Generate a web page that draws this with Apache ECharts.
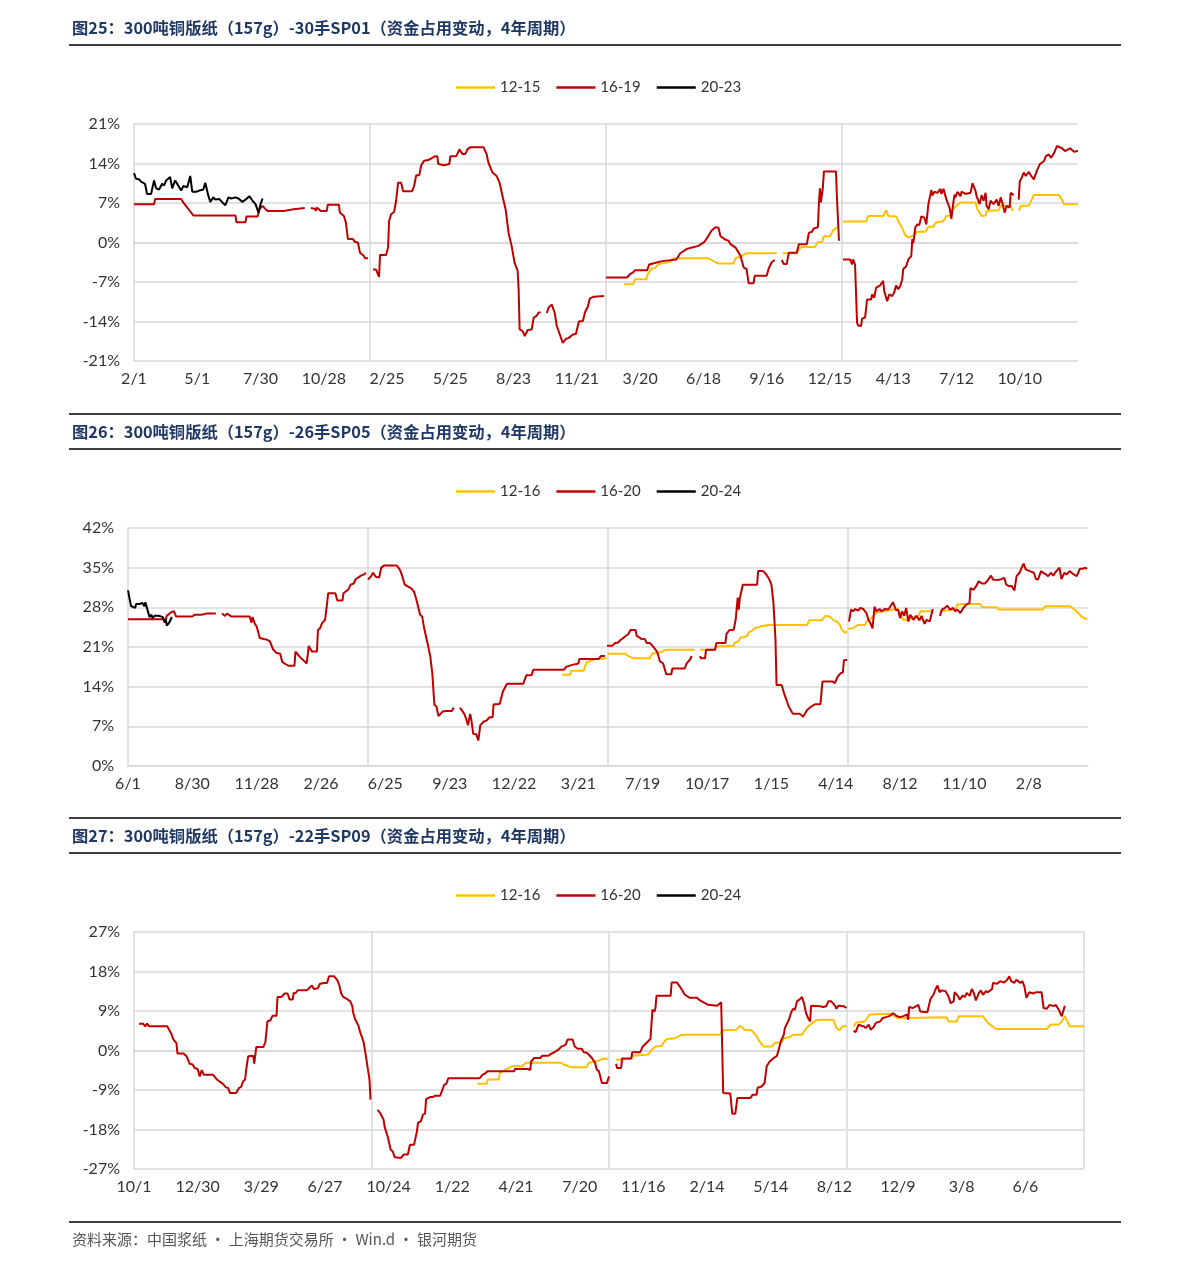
<!DOCTYPE html>
<html><head><meta charset="utf-8">
<script src="https://cdn.jsdelivr.net/npm/echarts@6/dist/echarts.min.js"></script>
<style>html,body{margin:0;padding:0;background:#fff}#c{width:1191px;height:1267px}</style>
</head><body><div id="c"></div>
<script>
// ---------- tick labels (one every 63 trading days, 235 per year) ----------
const xLabels1 = ['2/1','5/1','7/30','10/28','2/25','5/25','8/23','11/21','3/20','6/18','9/16','12/15','4/13','7/12','10/10'];
const xLabels2 = ['6/1','8/30','11/28','2/26','6/25','9/23','12/22','3/21','7/19','10/17','1/15','4/14','8/12','11/10','2/8'];
const xLabels3 = ['10/1','12/30','3/29','6/27','10/24','1/22','4/21','7/20','11/16','2/14','5/14','8/12','12/9','3/8','6/6'];
const names1 = ['12-15','16-19','20-23'];
const names2 = ['12-16','16-20','20-24'];
const names3 = ['12-16','16-20','20-24'];
const titles = [
  '图25：300吨铜版纸（157g）-30手SP01（资金占用变动，4年周期）',
  '图26：300吨铜版纸（157g）-26手SP05（资金占用变动，4年周期）',
  '图27：300吨铜版纸（157g）-22手SP09（资金占用变动，4年周期）'
];
const footer = '资料来源：中国浆纸 · 上海期货交易所 · Win.d · 银河期货';

// ---------- chart 1 (values in %, [trading day, value]); segments are separated by gaps ----------
const yellow1 = [
 [[488,-7.4],[497,-7.4],[499,-6.5],[510,-6.5],[512,-5.5],[515,-4.7],[519,-4.5],[522,-3.9],[526,-3.7],[534,-3.4],[537,-2.8],[572,-2.8],[579,-3.5],[582,-3.7],[597,-3.7],[599,-2.8],[605,-2.4],[610,-1.9],[640,-1.9]],
 [[646,-1.9],[660,-1.9],[662,-1.2],[665,-0.8],[678,-0.8],[681,0.1],[685,0.1],[687,1.1],[693,1.1],[696,2.1],[701,2.8]],
 [[706,3.7],[729,3.7],[731,4.7],[746,4.7],[749,5.7],[751,4.7],[759,4.6],[762,3.5],[765,2.5],[768,1.3],[771,0.9],[776,1.2],[780,1.9],[788,1.9],[791,2.8],[796,2.8],[798,3.5],[806,3.8],[809,4.7],[813,4.8],[814,5.6],[819,6.5],[823,7.1],[838,7.1],[840,5.9],[844,4.7],[848,4.8],[849,5.6],[861,5.7],[863,6.5],[873,6.5],[875,5.6]],
 [[881,5.6],[883,6.5],[891,6.5],[896,8.4],[921,8.4],[924,7.6],[926,6.8],[940,6.8]]
];
const red1 = [
 [[0,6.8],[20,6.8],[21,7.7],[47,7.7],[49,7.1],[53,6.2],[59,4.8],[101,4.8],[102,3.6],[111,3.6],[112,4.6],[123,4.6],[125,5.9],[128,6.5],[131,5.9],[133,5.6],[149,5.6],[150,5.9],[159,5.9],[160,6.1],[170,6.1]],
 [[176,6.1],[180,6.0],[181,5.6],[182,6.2],[186,5.6],[192,5.6],[193,6.7],[204,6.7],[205,5.3],[209,4.7],[211,3.5],[212,3.2],[213,0.6],[218,0.6],[220,0.1],[223,0.0],[225,-1.8],[229,-2.4],[230,-2.8],[233,-2.8]],
 [[238,-4.8],[241,-4.8],[244,-6.1],[245,-2.2],[251,-2.2],[253,-0.9],[254,3.8],[256,5.0],[259,5.4],[261,7.4],[263,10.6],[266,10.6],[268,9.1],[277,9.1],[279,10.1],[281,11.9],[284,11.9],[286,13.7],[289,14.5],[293,14.6],[297,15.0],[300,15.3],[302,15.3],[303,13.9],[309,13.7],[314,13.9],[315,15.3],[321,15.3],[324,16.5],[327,15.7],[330,15.7],[332,16.5],[335,16.9],[348,16.9],[351,15.7],[353,14.1],[357,12.4],[361,11.8],[364,10.6],[367,8.2],[370,5.9],[373,1.7],[376,-0.6],[379,-3.6],[382,-5.0],[383,-8.3],[384,-15.4],[387,-15.7],[389,-16.6],[392,-15.5],[396,-15.4],[398,-13.3],[401,-13.0],[403,-12.4],[405,-12.4]],
 [[411,-12.5],[413,-11.5],[416,-11.0],[419,-12.5],[421,-14.8],[424,-16.3],[427,-17.8],[430,-17.1],[433,-16.9],[437,-16.3],[440,-16.2],[443,-14.0],[447,-13.9],[449,-12.4],[452,-11.3],[454,-9.9],[458,-9.6],[468,-9.5]],
 [[470,-6.2],[491,-6.2],[494,-5.6],[497,-5.3],[499,-4.9],[511,-4.9],[513,-3.9],[526,-3.3],[540,-3.0],[544,-1.9],[551,-1.1],[562,-0.6],[568,0.1],[572,1.2],[575,2.1],[579,2.7],[582,2.6],[584,1.1],[589,0.5],[592,0.3],[594,-0.3],[599,-0.9],[604,-2.4],[607,-4.4],[610,-4.7],[612,-7.2],[617,-7.2],[618,-5.9],[630,-5.9],[632,-4.6],[635,-3.5],[638,-3.1]],
 [[645,-3.1],[647,-3.8],[650,-3.8],[652,-1.8],[660,-1.8],[662,-0.3],[670,-0.3],[672,1.7],[675,1.9],[677,2.5],[681,2.7],[682,7.0],[683,9.6],[684,7.1],[686,9.8],[687,12.6],[699,12.6],[700,7.8],[702,0.3]],
 [[706,-3.0],[713,-3.0],[715,-3.9],[716,-3.0],[718,-3.9],[720,-14.2],[721,-14.7],[724,-14.8],[725,-13.5],[728,-13.3],[730,-10.1],[731,-9.8],[734,-10.1],[735,-9.2],[737,-9.8],[739,-8.0],[743,-7.6],[746,-6.8],[747,-8.6],[750,-10.4],[752,-9.2],[755,-9.5],[757,-8.8],[759,-7.6],[761,-8.3],[763,-7.7],[765,-6.5],[766,-4.7],[769,-4.2],[771,-3.0],[774,-2.4],[775,0.6],[776,-0.1],[778,2.7],[780,3.2],[782,3.1],[784,4.6],[787,4.4],[789,3.2],[791,6.8],[794,9.3],[795,8.3],[797,9.0],[800,8.8],[803,9.5],[804,8.6],[806,9.5],[809,7.6],[812,6.2],[814,4.2],[815,5.9],[817,8.5],[818,8.0],[820,9.0],[823,8.2],[824,9.0],[828,8.6],[833,8.8],[835,10.5],[838,9.1],[839,8.2],[842,6.8],[844,8.4],[846,7.4],[848,8.8],[849,6.5],[851,5.9],[853,7.4],[856,6.8],[859,7.6],[861,6.5],[863,8.0],[865,6.8],[867,5.3],[869,6.5],[872,6.2],[873,8.8],[876,8.4]],
 [[881,7.6],[882,10.8],[884,11.5],[886,12.4],[888,11.8],[891,12.5],[893,11.9],[896,11.2],[899,12.7],[902,13.9],[906,14.4],[908,15.3],[911,15.6],[913,15.0],[916,15.8],[919,17.1],[924,16.7],[927,16.2],[932,16.7],[936,16.1],[940,16.2]]
];
const black1 = [
 [[0,12.3],[2,11.3],[5,11.2],[7,10.8],[11,10.4],[13,8.6],[17,8.6],[20,11.0],[22,9.6],[25,9.4],[28,10.4],[30,10.1],[32,11.0],[36,11.6],[38,9.6],[41,11.0],[44,10.1],[47,9.2],[49,10.0],[53,9.8],[56,11.8],[58,9.0],[62,9.0],[65,9.2],[69,9.4],[71,10.6],[74,8.3],[76,7.2],[79,8.0],[81,7.6],[85,7.7],[88,7.1],[91,6.6],[94,8.0],[97,7.8],[101,8.0],[104,7.8],[108,7.2],[111,7.6],[115,8.2],[118,7.4],[121,6.8],[124,5.3],[126,6.8],[128,7.8]]
];

// ---------- chart 2 ----------
const yellow2 = [
 [[425,16.1],[433,16.1],[434,16.8],[446,16.8],[449,18.3],[451,18.4],[458,18.9],[469,19.0]],
 [[470,19.8],[487,19.8],[490,19.4],[495,19.0],[511,19.0],[513,19.8],[519,20.0],[523,20.2],[526,20.5],[555,20.5]],
 [[560,20.5],[573,20.5],[576,21.1],[593,21.2],[594,21.7],[598,22.0],[599,22.6],[606,22.9],[608,23.6],[612,24.0],[614,24.3],[619,24.6],[624,24.8],[627,24.9],[665,24.9],[667,25.7],[679,25.7],[683,26.5],[687,26.4],[691,25.7],[694,25.5],[697,24.9],[699,24.0],[702,23.5],[704,23.7]],
 [[705,24.2],[710,24.3],[712,24.6],[715,24.9],[722,24.9],[723,25.5],[727,26.0],[730,26.5],[733,27.1],[740,27.3],[749,27.6],[754,27.7],[757,26.5],[759,25.8],[764,25.8],[769,26.3],[774,26.5],[776,27.3],[789,27.3]],
 [[795,27.3],[810,27.6],[812,28.5],[818,28.6],[834,28.6],[837,28.0],[851,28.0],[852,27.6],[896,27.6],[898,28.2],[922,28.2],[926,27.7],[931,26.9],[934,26.3],[939,25.9]]
];
const red2 = [
 [[0,25.9],[37,25.9],[38,26.5],[42,27.1],[45,27.3],[47,26.4],[63,26.4],[65,26.7],[72,26.7],[77,26.9],[86,26.9]],
 [[92,26.9],[95,26.5],[97,26.9],[101,26.4],[119,26.4],[121,25.3],[122,26.3],[124,25.2],[126,24.6],[129,22.6],[133,22.4],[136,22.3],[139,22.0],[142,20.6],[145,20.0],[149,19.8],[151,18.4],[154,18.0],[157,17.7],[163,17.7],[164,20.2],[168,19.3],[175,18.1],[177,21.2],[180,20.2],[185,20.2],[186,24.0],[188,24.3],[190,25.2],[193,25.8],[195,28.8],[196,30.5],[203,30.5],[205,29.2],[210,29.2],[211,30.5],[216,31.2],[218,32.0],[221,32.2],[223,33.0],[225,33.2],[228,33.6],[231,33.8],[233,34.1]],
 [[235,32.9],[238,33.5],[240,34.1],[243,33.3],[246,33.3],[248,35.0],[251,35.4],[263,35.4],[266,34.7],[268,33.8],[271,32.0],[273,31.8],[277,31.4],[280,30.8],[282,29.6],[284,28.2],[286,26.7],[288,26.4],[290,24.3],[294,21.1],[296,19.3],[298,16.3],[300,10.8],[302,10.5],[304,8.8],[308,9.6],[311,9.7],[317,9.7],[319,10.3]],
 [[325,10.3],[329,9.3],[331,8.4],[333,7.2],[335,9.2],[336,8.4],[338,5.7],[341,5.6],[343,4.5],[345,7.2],[348,7.8],[351,8.0],[354,8.6],[357,8.6],[358,10.9],[362,10.9],[364,11.0],[367,13.1],[371,14.5],[387,14.5],[390,16.0],[395,16.0],[397,17.0],[427,17.0],[429,17.5],[434,17.8],[435,18.1],[441,18.1],[442,18.9],[461,18.9],[463,19.4],[467,19.4]],
 [[469,21.2],[474,21.2],[477,21.7],[480,21.8],[482,22.2],[487,22.9],[490,23.3],[492,24.0],[497,24.0],[498,23.0],[503,22.4],[506,22.4],[508,21.7],[511,21.7],[514,21.1],[518,20.2],[521,18.4],[524,18.1],[527,16.2],[532,16.2],[533,17.2],[545,17.2],[547,18.1],[550,18.7],[552,19.4]],
 [[560,19.4],[561,19.0],[565,19.0],[566,20.5],[575,20.5],[576,21.7],[585,21.7],[586,23.3],[589,24.0],[593,24.0],[595,25.8],[597,29.7],[598,27.6],[599,29.5],[602,32.0],[616,32.0],[617,34.4],[622,34.4],[625,33.8],[628,32.9],[630,32.0],[632,28.8],[634,22.3],[635,14.3],[640,14.3],[643,12.5],[647,10.5],[651,9.2],[658,9.2],[661,8.7],[665,9.9],[669,10.5],[673,10.9],[678,10.9],[680,14.9],[690,14.9],[692,14.6],[695,15.8],[698,16.4],[700,16.5],[701,18.7],[704,18.7]],
 [[706,25.5],[708,27.6],[710,27.3],[712,27.7],[715,27.4],[717,27.9],[720,27.7],[723,27.0],[725,25.8],[727,25.2],[729,24.3],[731,28.1],[733,27.3],[736,27.7],[738,27.3],[741,27.7],[744,27.6],[746,28.0],[749,28.9],[752,27.5],[754,27.6],[756,26.1],[758,27.3],[760,26.5],[762,27.9],[764,25.5],[766,26.7],[769,25.8],[772,26.5],[775,25.7],[777,26.5],[780,25.1],[782,25.8],[785,25.5],[788,27.7]],
 [[795,26.5],[797,27.6],[800,27.9],[802,28.3],[805,27.6],[808,27.9],[810,27.3],[812,27.6],[815,27.0],[818,27.9],[821,28.5],[824,28.8],[825,31.4],[828,31.1],[830,31.6],[833,32.6],[836,32.2],[839,32.2],[842,32.8],[845,33.6],[847,32.9],[851,32.8],[854,32.9],[858,33.2],[860,32.0],[863,31.7],[865,31.8],[868,31.0],[870,33.5],[873,34.1],[875,35.0],[877,35.7],[879,34.7],[883,34.4],[887,34.1],[889,33.0],[891,32.9],[894,34.4],[896,34.1],[899,33.8],[901,33.5],[904,34.1],[906,33.6],[909,34.4],[912,35.0],[914,33.0],[917,34.1],[919,33.8],[922,34.4],[926,33.8],[927,33.6],[929,33.5],[932,34.8],[935,34.8],[937,35.0],[939,34.8]]
];
const black2 = [
 [[0,31.0],[2,29.1],[3,28.2],[7,27.9],[8,28.6],[12,28.6],[14,28.8],[16,28.2],[17,28.9],[19,27.6],[21,26.3],[23,26.7],[24,26.1],[26,26.5],[30,26.5],[32,26.4],[34,26.3],[36,25.3],[37,25.8],[38,24.8],[40,25.2],[41,25.5],[43,26.3]]
];

// ---------- chart 3 ----------
const yellow3 = [
 [[340,-7.6],[349,-7.6],[350,-6.6],[361,-6.6],[362,-5.1],[365,-4.7],[374,-3.6],[384,-3.6],[388,-2.8],[423,-2.8],[425,-3.2],[432,-3.8],[448,-3.8],[450,-2.8],[457,-2.5],[464,-1.9],[469,-1.9]],
 [[477,-2.1],[492,-1.9],[494,-1.2],[509,-0.9],[512,0.1],[516,0.9],[522,1.0],[524,1.8],[527,2.6],[535,2.8],[540,3.4],[544,3.6],[580,3.6],[582,4.6],[596,4.7],[599,5.5],[601,5.5],[604,4.7],[611,4.6],[615,3.6],[619,2.1],[623,0.9],[631,0.9],[634,1.7],[641,1.9],[643,2.8],[649,3.1],[652,3.6],[661,3.6],[664,4.7],[667,5.5],[672,6.4],[676,7.0],[692,7.0],[695,5.1],[698,4.6],[701,5.5],[705,5.5]],
 [[712,5.5],[715,6.4],[723,6.6],[728,8.2],[748,8.4],[755,7.4],[765,7.4],[766,7.6],[804,7.6],[806,6.6],[814,6.6],[816,7.8],[840,7.8],[845,6.3],[853,4.9],[903,4.9],[907,5.9],[915,5.9],[918,6.6],[921,7.8],[926,5.5],[940,5.5]]
];
const red3 = [
 [[5,6.1],[9,6.1],[11,5.5],[13,6.1],[15,5.5],[33,5.5],[35,4.6],[37,3.8],[39,2.5],[42,1.7],[43,-0.7],[49,-0.7],[52,-1.3],[55,-3.0],[58,-3.2],[60,-4.0],[63,-4.2],[65,-5.9],[67,-4.5],[69,-5.5],[78,-5.5],[82,-6.6],[88,-7.6],[91,-8.4],[93,-8.5],[95,-9.7],[101,-9.7],[104,-8.5],[106,-8.3],[108,-7.0],[110,-6.6],[111,-4.4],[113,-1.3],[118,-1.2],[119,-3.0],[121,0.8],[128,0.8],[130,1.9],[132,6.6],[135,6.9],[137,7.9],[141,7.9],[142,12.2],[146,12.2],[149,13.0],[152,13.0],[154,11.6],[157,11.6],[158,13.1],[160,13.1],[162,13.7],[171,13.7],[176,14.8],[178,14.0],[182,14.2],[184,15.2],[188,15.4],[191,15.4],[193,16.9],[198,16.9],[201,16.1],[203,15.0],[205,13.0],[207,12.2],[211,11.7],[214,11.2],[216,10.1],[217,8.5],[219,7.0],[222,5.7],[224,4.0],[227,2.1],[229,-0.6],[231,-3.6],[233,-6.6],[234,-11.2]],
 [[241,-13.5],[244,-14.4],[247,-15.8],[248,-17.4],[251,-19.6],[254,-22.6],[256,-23.0],[258,-24.3],[264,-24.5],[267,-23.7],[271,-23.7],[273,-21.5],[277,-21.5],[280,-18.4],[281,-16.5],[284,-16.1],[286,-14.6],[288,-14.4],[289,-11.1],[293,-10.6],[296,-10.6],[298,-10.3],[303,-10.3],[307,-7.8],[309,-7.6],[311,-6.3],[342,-6.3],[345,-5.5],[347,-5.3],[350,-4.7],[376,-4.7],[377,-4.2],[390,-4.2],[392,-4.5],[393,-2.5],[396,-1.7],[402,-1.7],[404,-1.2],[410,-1.2],[413,-0.7],[416,-0.4],[420,0.2],[423,0.9],[427,1.3],[429,2.5],[434,2.5],[436,0.9],[439,0.4],[443,0.4],[445,-0.4],[448,-0.5],[451,-1.2],[453,-1.7],[456,-2.7],[458,-4.4],[460,-4.7],[463,-7.4],[468,-7.4],[470,-5.9]],
 [[477,-3.0],[478,-4.0],[482,-4.0],[483,-1.8],[492,-1.8],[493,-0.4],[501,-0.4],[503,0.8],[507,1.7],[511,2.6],[512,5.9],[513,9.3],[515,8.9],[516,9.7],[517,12.5],[531,12.5],[532,15.5],[537,15.5],[540,14.6],[543,13.5],[545,12.7],[550,12.0],[557,12.0],[560,11.4],[565,10.8],[568,10.4],[577,10.2],[578,9.9],[581,11.0],[583,-9.7],[590,-9.8],[591,-10.1],[592,-14.4],[595,-14.4],[597,-10.8],[610,-10.8],[612,-10.1],[616,-10.1],[617,-8.5],[621,-8.2],[624,-7.4],[626,-3.6],[629,-2.5],[633,-1.7],[636,-1.3],[638,0.2],[640,2.1],[643,3.6],[644,5.1],[648,7.0],[650,8.5],[652,9.5],[654,9.3],[656,11.2],[659,11.7],[661,12.2],[663,10.7],[665,8.5],[667,7.4],[669,6.6],[670,10.2],[679,10.1],[682,9.9],[685,10.1],[687,11.2],[690,11.2],[694,10.1],[695,9.5],[697,10.2],[702,10.1],[705,9.7]],
 [[712,4.5],[714,4.2],[717,5.9],[719,5.7],[722,5.5],[724,5.1],[727,5.9],[729,4.7],[732,5.4],[734,6.3],[738,6.6],[741,7.4],[744,7.6],[748,7.9],[751,8.5],[755,7.8],[758,7.6],[762,7.9],[765,8.2],[766,7.0],[767,9.9],[771,9.7],[774,10.1],[776,10.4],[778,8.9],[779,8.7],[785,8.7],[788,11.7],[791,12.7],[793,13.9],[795,14.8],[797,13.3],[799,13.7],[803,13.5],[806,12.3],[808,10.8],[811,11.2],[812,13.3],[815,12.5],[817,11.6],[820,12.5],[822,12.2],[824,13.1],[827,12.5],[829,14.0],[831,13.1],[833,11.4],[836,13.1],[838,13.7],[840,12.7],[843,13.5],[845,13.3],[849,14.0],[850,15.4],[854,15.2],[857,15.8],[861,15.5],[864,16.1],[866,16.9],[868,15.8],[871,15.4],[873,16.1],[877,15.4],[879,15.8],[881,14.6],[883,12.0],[886,13.3],[889,13.0],[893,13.3],[898,13.3],[900,9.7],[903,9.5],[906,10.4],[910,10.1],[912,10.4],[915,9.3],[918,7.8],[921,10.2]]
];
const black3 = [];

// ---------- helpers ----------
function joinSegs(segs){
  const out = [];
  segs.forEach((s, i) => {
    if (i > 0) out.push([s[0][0] - 0.5, '-']);
    s.forEach(p => out.push(p));
  });
  return out;
}
const FONT = 'Lato';
const GRID_C = '#D9D9D9';
const COLORS = ['#FFC000', '#C00000', '#000000'];

function xAxes(gi, labels, showMax){
  return [
    { type:'value', gridIndex:gi, min:0, max:940, interval:63,
      axisLine:{show:true, lineStyle:{color:GRID_C, width:1.5}},
      axisTick:{show:false}, splitLine:{show:false},
      axisLabel:{color:'#333', fontSize:16, fontFamily:FONT, margin:10,
        formatter: v => { const i = Math.round(v/63); return (Math.abs(v - i*63) < 0.5 && labels[i]) ? labels[i] : ''; } } },
    { type:'value', gridIndex:gi, min:0, max:940, interval:235, position:'bottom',
      axisLine:{show:false}, axisTick:{show:false}, axisLabel:{show:false},
      splitLine:{show:true, showMinLine:false, showMaxLine:showMax, lineStyle:{color:GRID_C, width:1.5}} }
  ];
}
function yAxis(gi, min, max, interval){
  return { type:'value', gridIndex:gi, min, max, interval,
    axisLine:{show:true, lineStyle:{color:GRID_C, width:1.5}},
    axisTick:{show:false},
    splitLine:{show:true, lineStyle:{color:GRID_C, width:1.5}},
    axisLabel:{formatter:'{value}%', color:'#333', fontSize:16, fontFamily:FONT, margin:14} };
}
function lines(gi, names, sets){
  return sets.map((segs, k) => ({
    type:'line', name:names[k], xAxisIndex:gi*2, yAxisIndex:gi,
    data: joinSegs(segs), showSymbol:false, symbol:'none', connectNulls:false,
    lineStyle:{color:COLORS[k], width:2}, itemStyle:{color:COLORS[k]},
    animation:false, silent:true, z: 2 + k
  }));
}
function legend(top, names){
  return { top, left:451, itemWidth:39, itemHeight:2.5, itemGap:16, icon:'rect',
    selectedMode:false, data:names,
    textStyle:{fontSize:15, color:'#333', fontFamily:FONT} };
}
function title(y, text){
  return { type:'text', x:72, y, style:{ text, font:'bold 16.3px "Noto Sans CJK SC"', fill:'#1F3864',
    verticalAlign:'middle', textVerticalAlign:'middle' } };
}
function hline(y){
  return { type:'line', shape:{x1:69, y1:y, x2:1121, y2:y}, style:{stroke:'#000', lineWidth:1.5} };
}

const chart = echarts.init(document.getElementById('c'), null, {renderer:'canvas'});
chart.setOption({
  animation:false,
  backgroundColor:'#fff',
  grid:[
    {left:134, top:124, width:944, height:237},
    {left:128, top:528, width:960, height:238},
    {left:134, top:932, width:950, height:237}
  ],
  legend:[ legend(75, names1), legend(479, names2), legend(883, names3) ],
  xAxis:[ ...xAxes(0, xLabels1, false), ...xAxes(1, xLabels2, false), ...xAxes(2, xLabels3, true) ],
  yAxis:[ yAxis(0, -21, 21, 7), yAxis(1, 0, 42, 7), yAxis(2, -27, 27, 9) ],
  series:[
    ...lines(0, names1, [yellow1, red1, black1]),
    ...lines(1, names2, [yellow2, red2, black2]),
    ...lines(2, names3, [yellow3, red3, black3])
  ],
  graphic:[
    title(28, titles[0]), hline(45),
    hline(414), title(432, titles[1]), hline(449),
    hline(818), title(836, titles[2]), hline(853),
    hline(1222),
    { type:'text', x:72, y:1239, style:{ text:footer, font:'15px "Noto Sans CJK SC"', fill:'#555555',
      verticalAlign:'middle', textVerticalAlign:'middle' } }
  ]
});
</script>
</body></html>
